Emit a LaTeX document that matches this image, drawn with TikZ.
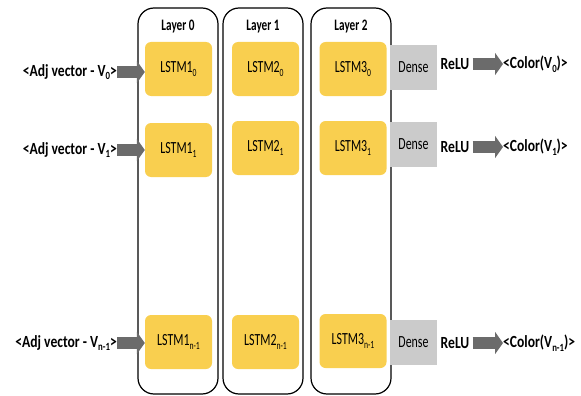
\documentclass[tikz,border=0pt]{standalone}
\usepackage{fontspec}
\setmainfont{Carlito}
\usepackage{graphicx}
\usetikzlibrary{arrows.meta}
\definecolor{lstmyel}{HTML}{F9CF4F}
\definecolor{densegray}{HTML}{CBCBCB}
\definecolor{arrgray}{HTML}{6B6B6B}
\newcommand{\sq}[1]{\scalebox{0.7}[1]{#1}}
\newcommand{\sqb}[1]{\scalebox{0.8}[1]{#1}}
\newcommand{\sbs}[1]{\raisebox{-0.45ex}{\fontsize{11}{11}\selectfont #1}}
\begin{document}
\begin{tikzpicture}[x=1pt,y=-1pt,
  layerbox/.style={draw=black, line width=1.2pt, rounded corners=16pt, minimum width=80pt, minimum height=386pt, inner sep=0pt},
  lstmbox/.style={fill=lstmyel, rounded corners=6pt, minimum width=67pt, minimum height=54pt, inner sep=0pt, font=\fontsize{17}{17}\selectfont},
  densebox/.style={fill=densegray, minimum width=47pt, minimum height=45pt, inner sep=0pt, font=\fontsize{17}{17}\selectfont},
  lbl/.style={inner sep=0pt, font=\fontsize{17}{17}\selectfont\bfseries},
  layerlbl/.style={inner sep=0pt, font=\fontsize{16}{16}\selectfont\bfseries},
  fatarrow/.style={draw=arrgray, line width=12pt, -{Triangle[width=22pt,length=8pt]}, shorten >=0pt}
]
\useasboundingbox (0,0) rectangle (581,396);
% layer boxes
\node[layerbox] (L0) at (178,201) {};
\node[layerbox] (L1) at (263,201) {};
\node[layerbox] (L2) at (351,201) {};
\node[layerlbl] (t0) at (178,27) {\sq{Layer 0}};
\node[layerlbl] (t1) at (263,27) {\sq{Layer 1}};
\node[layerlbl] (t2) at (351,27) {\sq{Layer 2}};
% LSTM cells
\node[lstmbox] (a0) at (178.5,69) {\sq{LSTM1\sbs{0}}};
\node[lstmbox] (a1) at (178.5,150) {\sq{LSTM1\sbs{1}}};
\node[lstmbox] (a2) at (178.5,342) {\sq{LSTM1\sbs{n-1}}};
\node[lstmbox] (b0) at (265.5,69) {\sq{LSTM2\sbs{0}}};
\node[lstmbox] (b1) at (265.5,148) {\sq{LSTM2\sbs{1}}};
\node[lstmbox] (b2) at (265.5,342) {\sq{LSTM2\sbs{n-1}}};
\node[lstmbox] (c0) at (353,69) {\sq{LSTM3\sbs{0}}};
\node[lstmbox] (c1) at (353,148) {\sq{LSTM3\sbs{1}}};
\node[lstmbox] (c2) at (353,341) {\sq{LSTM3\sbs{n-1}}};
% Dense
\node[densebox] (d0) at (413.5,67.5) {\sq{Dense}};
\node[densebox] (d1) at (413.5,144) {\sq{Dense}};
\node[densebox] (d2) at (413.5,342) {\sq{Dense}};
% ReLU
\node[lbl] (r0) at (455,64) {\sqb{ReLU}};
\node[lbl] (r1) at (455,147) {\sqb{ReLU}};
\node[lbl] (r2) at (455,343) {\sqb{ReLU}};
% outputs
\node[lbl, anchor=west] (o0) at (503,64) {\sqb{<Color(V\sbs{0})>}};
\node[lbl, anchor=west] (o1) at (503,147) {\sqb{<Color(V\sbs{1})>}};
\node[lbl, anchor=west] (o2) at (503,343) {\sqb{<Color(V\sbs{n-1})>}};
% inputs
\node[lbl, anchor=east] (i0) at (117,72) {\sqb{<Adj vector - V\sbs{0}>}};
\node[lbl, anchor=east] (i1) at (117,150) {\sqb{<Adj vector - V\sbs{1}>}};
\node[lbl, anchor=east] (i2) at (117,343) {\sqb{<Adj vector - V\sbs{n-1}>}};
% arrows
\draw[fatarrow] (i0.east) -- (i0.east -| a0.west);
\draw[fatarrow] (i1.east) -- (i1.east -| a1.west);
\draw[fatarrow] (i2.east) -- (i2.east -| a2.west);
\draw[fatarrow] ([xshift=3pt]r0.east) -- (o0.west);
\draw[fatarrow] ([xshift=3pt]r1.east) -- (o1.west);
\draw[fatarrow] ([xshift=3pt]r2.east) -- (o2.west);
\end{tikzpicture}
\end{document}
